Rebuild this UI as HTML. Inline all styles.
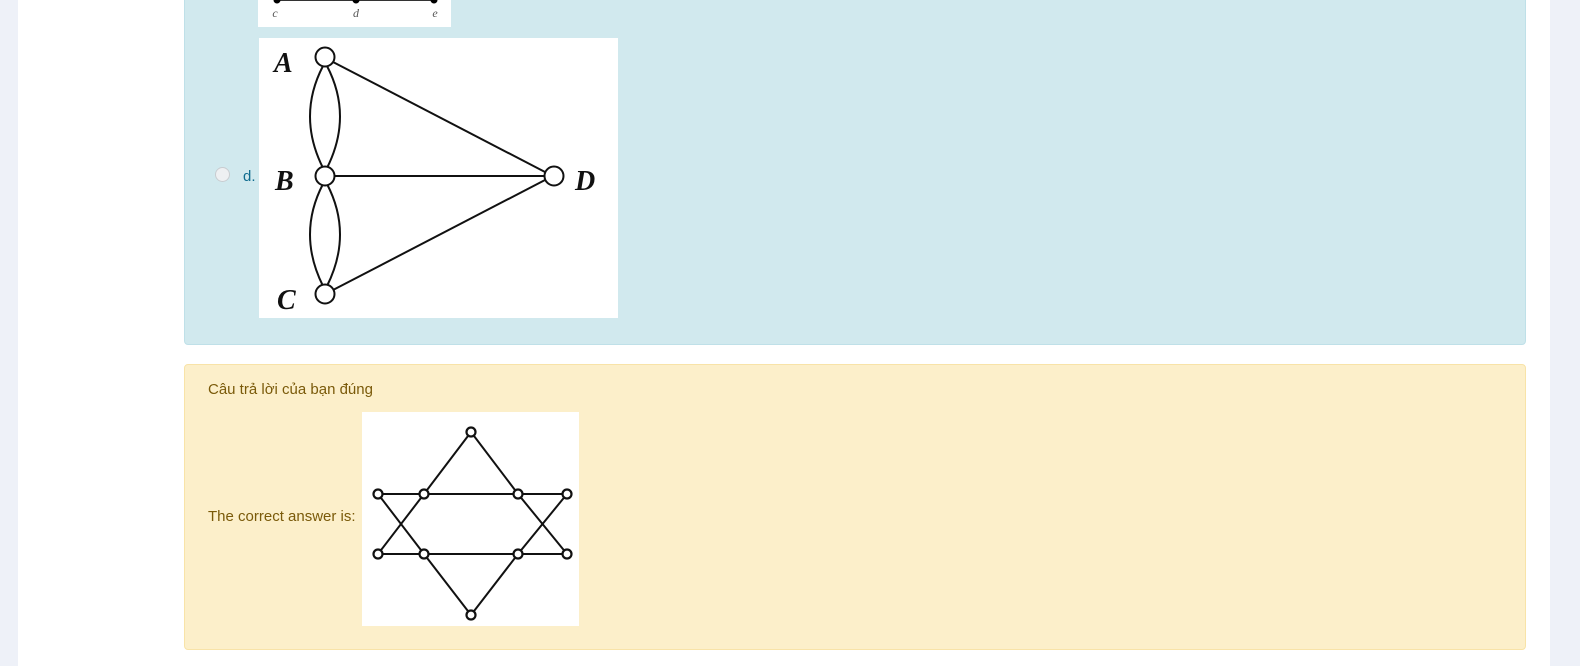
<!DOCTYPE html>
<html><head><meta charset="utf-8"><style>
body{margin:0;width:1580px;height:666px;background:#eef1f8;position:relative;overflow:hidden;font-family:"Liberation Sans",sans-serif}
.abs{position:absolute}
</style></head><body>
<div class="abs" style="left:18px;top:0;width:1532px;height:666px;background:#fff"></div>
<div class="abs" style="left:184px;top:-6px;width:1340px;height:349px;background:#d1e9ee;border:1px solid #bfe0e8;border-radius:4px"></div>
<div class="abs" style="left:258px;top:0;width:193px;height:27px;background:#fff">
<svg width="193" height="27"><line x1="19" y1="0" x2="176" y2="0" stroke="#333" stroke-width="2"/>
<circle cx="19" cy="0" r="3.5"/><circle cx="98" cy="0" r="3.5"/><circle cx="176" cy="0" r="3.5"/>
<g font-family="Liberation Serif" font-style="italic" font-size="12" fill="#555" text-anchor="middle"><text x="17" y="17">c</text><text x="98" y="17">d</text><text x="177" y="17">e</text></g></svg></div>
<div class="abs" style="left:215px;top:167px;width:13px;height:13px;border:1px solid #c8ccd0;border-radius:50%;background:#eef0f2"></div>
<div class="abs" style="left:243px;top:168px;font-size:15px;color:#0f6c8f">d.</div>
<div class="abs" style="left:259px;top:38px;width:359px;height:280px;background:#fff">
<svg width="359" height="280" fill="none" stroke="#111" stroke-width="2">
<line x1="74" y1="24" x2="286" y2="134"/><line x1="75" y1="138" x2="286" y2="138"/><line x1="74" y1="252" x2="286" y2="142"/>
<path d="M64 28 Q38 78 64 130"/><path d="M68 28 Q94 78 68 130"/>
<path d="M64 146 Q38 196 64 248"/><path d="M68 146 Q94 196 68 248"/>
<circle cx="66" cy="19" r="9.5" fill="#fff"/><circle cx="66" cy="138" r="9.5" fill="#fff"/><circle cx="66" cy="256" r="9.5" fill="#fff"/><circle cx="295" cy="138" r="9.5" fill="#fff"/>
<g font-family="Liberation Serif" font-style="italic" font-weight="bold" font-size="28" fill="#111" stroke="none"><text x="15" y="34">A</text><text x="16" y="152">B</text><text x="18" y="271">C</text><text x="316" y="152">D</text></g>
</svg></div>
<div class="abs" style="left:184px;top:364px;width:1340px;height:284px;background:#fcefca;border:1px solid #f8e3a8;border-radius:4px"></div>
<div class="abs" style="left:208px;top:381px;font-size:15px;color:#7a5a0a;font-family:'Liberation Sans','Noto Sans CJK SC',sans-serif">Câu trả lời của bạn đúng</div>
<div class="abs" style="left:208px;top:508px;font-size:15px;color:#7a5a0a">The correct answer is:</div>
<div class="abs" style="left:362px;top:412px;width:217px;height:214px;background:#fff">
<svg width="217" height="214" fill="none" stroke="#111" stroke-width="2">
<polyline points="109,20 62,82 16,142"/><polyline points="109,20 156,82 205,142"/>
<polyline points="109,203 62,142 16,82"/><polyline points="109,203 156,142 205,82"/>
<line x1="16" y1="82" x2="205" y2="82"/><line x1="16" y1="142" x2="205" y2="142"/>
<g stroke-width="2.2" fill="#fff"><circle cx="109" cy="20" r="4.5"/><circle cx="109" cy="203" r="4.5"/>
<circle cx="16" cy="82" r="4.5"/><circle cx="62" cy="82" r="4.5"/><circle cx="156" cy="82" r="4.5"/><circle cx="205" cy="82" r="4.5"/>
<circle cx="16" cy="142" r="4.5"/><circle cx="62" cy="142" r="4.5"/><circle cx="156" cy="142" r="4.5"/><circle cx="205" cy="142" r="4.5"/></g>
</svg></div>
</body></html>
